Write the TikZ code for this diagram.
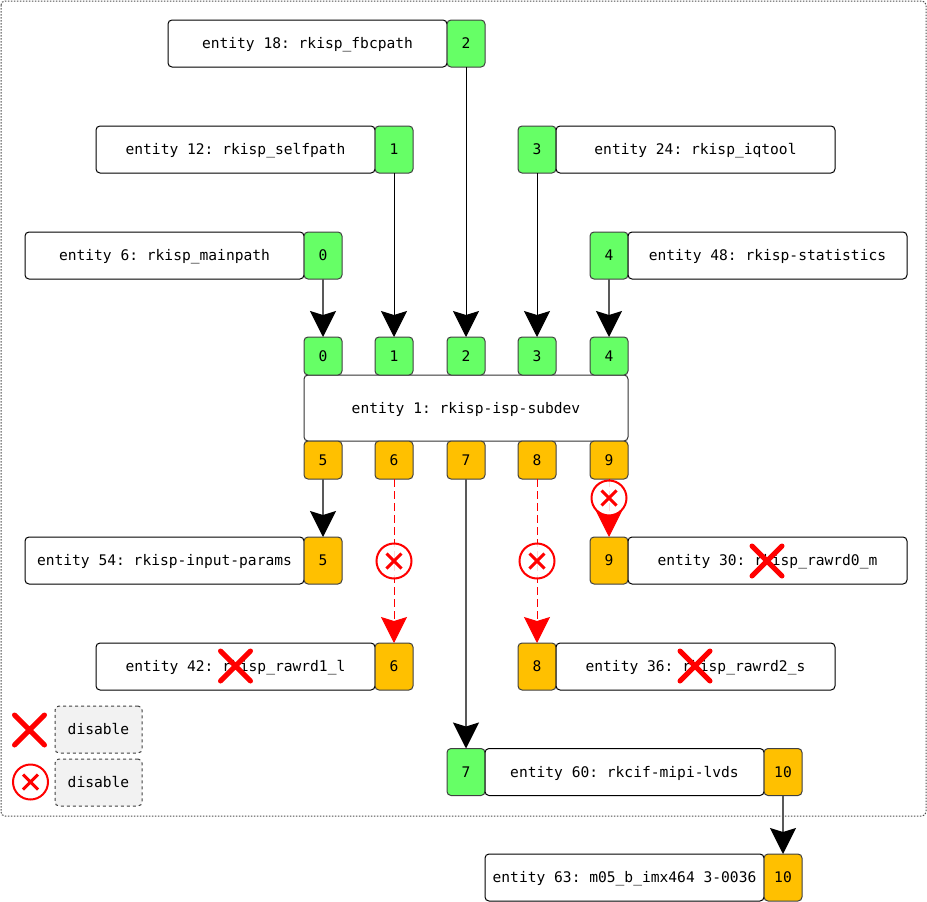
\documentclass[tikz,border=0pt]{standalone}
\usepackage{fontspec}
\setmainfont{DejaVu Sans Mono}
\usetikzlibrary{arrows.meta}
\definecolor{portgreen}{HTML}{66FF66}
\definecolor{portorange}{HTML}{FFC000}
\definecolor{edgegray}{HTML}{595959}
\tikzset{
  x=1pt,y=-1pt,
  every node/.style={font=\fontsize{14.6pt}{17pt}\selectfont\frenchspacing,text=black,inner sep=0pt,outer sep=0pt,text height=12pt,text depth=2pt},
  ent/.style={draw=black,line width=1pt,rounded corners=4pt,fill=white,minimum width=279pt,minimum height=47pt},
  core/.style={draw=black!80,line width=1pt,rounded corners=4pt,fill=white,minimum width=324pt,minimum height=66pt},
  gport/.style={draw=black!75,line width=1pt,rounded corners=4pt,fill=portgreen,minimum width=38pt,minimum height=47pt},
  gpin/.style={gport,minimum height=38pt},
  oport/.style={draw=black!75,line width=1pt,rounded corners=4pt,fill=portorange,minimum width=38pt,minimum height=47pt},
  opin/.style={oport,minimum height=38pt},
  legend/.style={draw=black!75,dashed,line width=1pt,rounded corners=4pt,fill=black!5,minimum width=87pt,minimum height=47pt},
  link/.style={line width=1.4pt,draw=edgegray,-{Stealth[length=26pt,width=26pt,inset=4pt,fill=black,color=black]}},
  blink/.style={link,line width=0.9pt,draw=black},
  off/.style={line width=1pt,draw=red,dash pattern=on 8pt off 4pt,-{Stealth[length=26pt,width=26pt,inset=4pt,color=red]}},
  offsolid/.style={off,dash pattern=on 8pt off 4pt},
  bigx/.style={line width=5pt,draw=red,line cap=round},
  smallx/.style={line width=3pt,draw=red},
  ring/.style={circle,draw=red,line width=2pt,fill=white,fill opacity=.85,minimum size=35pt},
}
\newcommand{\bigcross}[2]{\draw[bigx] (#1-15,#2-15) -- (#1+15,#2+15) (#1-15,#2+15) -- (#1+15,#2-15);}
\newcommand{\smallcross}[2]{\draw[smallx] (#1-7.5,#2-7.5) -- (#1+7.5,#2+7.5) (#1-7.5,#2+7.5) -- (#1+7.5,#2-7.5);}
\begin{document}
\begin{tikzpicture}
\useasboundingbox (0,0) rectangle (927,902);
\draw[black!70,line width=1pt,dash pattern=on 1.5pt off 1.5pt,rounded corners=4pt] (1,1) rectangle (926,816);

% sources
\node[ent] (e18) at (307.5,43.5) {entity 18: rkisp\_fbcpath};
\node[gport] (e18p) at (466,43.5) {2};
\node[ent] (e12) at (235.5,149.5) {entity 12: rkisp\_selfpath};
\node[gport] (e12p) at (394,149.5) {1};
\node[gport] (e24p) at (537,149.5) {3};
\node[ent] (e24) at (695.5,149.5) {entity 24: rkisp\_iqtool};
\node[ent] (e6) at (164.5,255.5) {entity 6: rkisp\_mainpath};
\node[gport] (e6p) at (323,255.5) {0};
\node[gport] (e48p) at (609,255.5) {4};
\node[ent] (e48) at (767.5,255.5) {entity 48: rkisp-statistics};

% core
\node[core] (core) at (466,408) {entity 1: rkisp-isp-subdev};
\node[gpin] (i0) at (323,356) {0};
\node[gpin] (i1) at (394,356) {1};
\node[gpin] (i2) at (466,356) {2};
\node[gpin] (i3) at (537,356) {3};
\node[gpin] (i4) at (609,356) {4};
\node[opin] (o5) at (323,460) {5};
\node[opin] (o6) at (394,460) {6};
\node[opin] (o7) at (466,460) {7};
\node[opin] (o8) at (537,460) {8};
\node[opin] (o9) at (609,460) {9};

% sinks
\node[ent] (e54) at (164.5,560.5) {entity 54: rkisp-input-params};
\node[oport] (e54p) at (323,560.5) {5};
\node[oport] (e30p) at (609,560.5) {9};
\node[ent] (e30) at (767.5,560.5) {entity 30: rkisp\_rawrd0\_m};
\node[ent] (e42) at (235.5,666.5) {entity 42: rkisp\_rawrd1\_l};
\node[oport] (e42p) at (394,666.5) {6};
\node[oport] (e36p) at (537,666.5) {8};
\node[ent] (e36) at (695.5,666.5) {entity 36: rkisp\_rawrd2\_s};
\node[gport] (e60i) at (466,772) {7};
\node[ent] (e60) at (624.5,772) {entity 60: rkcif-mipi-lvds};
\node[oport] (e60o) at (783,772) {10};
\node[ent] (e63) at (624.5,877.5) {entity 63: m05\_b\_imx464 3-0036};
\node[oport] (e63p) at (783,877.5) {10};

% legend
\node[legend] (l1) at (98.5,729.5) {disable};
\node[legend] (l2) at (98.5,782.5) {disable};

% connectors
\draw[link] (e6p) -- (i0);
\draw[blink] (e12p) -- (i1);
\draw[blink] (e18p) -- (i2);
\draw[blink] (e24p) -- (i3);
\draw[link] (e48p) -- (i4);
\draw[link] (o5) -- (e54p);
\draw[link] (o7) -- (e60i);
\draw[link] (e60o) -- (e63p);
\draw[off] (o6) -- (e42p);
\draw[off] (o8) -- (e36p);
\draw[offsolid] (o9) -- (e30p);

% disable markers
\node[ring] (r6) at (394,561) {};
\node[ring] (r8) at (537,561) {};
\node[ring] (r9) at (609,498) {};
\node[ring] (r0) at (30.5,782) {};
\smallcross{394}{561}
\smallcross{537}{561}
\smallcross{609}{498}
\smallcross{30.5}{782}
\bigcross{767}{561}
\bigcross{235.5}{666}
\bigcross{695}{666}
\bigcross{29.5}{730}
\end{tikzpicture}
\end{document}
